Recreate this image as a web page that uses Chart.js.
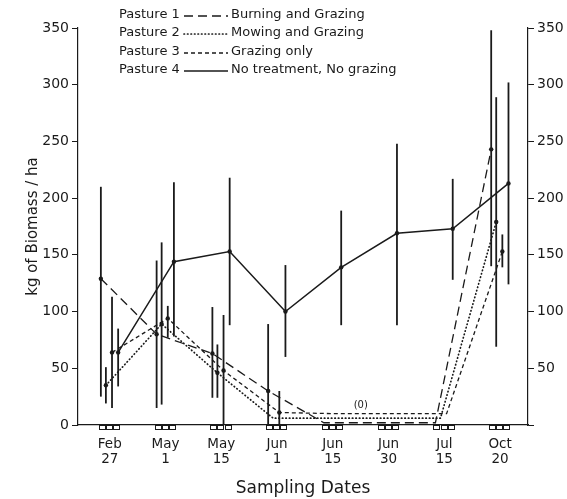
<!DOCTYPE html>
<html>
<head>
<meta charset="utf-8">
<script src="https://cdn.jsdelivr.net/npm/chart.js@4.4.1/dist/chart.umd.min.js"></script>
<style>
  html, body { margin: 0; padding: 0; background: #fff; }
  #wrap { width: 567px; height: 499px; position: relative; }
</style>
</head>
<body>
<div id="wrap"><canvas id="chart"></canvas></div>
<script>
// --------- Data ----------
const dateLabels = [['Feb', '27'], ['May', '1'], ['May', '15'], ['Jun', '1'],
                    ['Jun', '15'], ['Jun', '30'], ['Jul', '15'], ['Oct', '20']];
const pastureNames = ['Pasture 1', 'Pasture 2', 'Pasture 3', 'Pasture 4'];
const treatments   = ['Burning and Grazing', 'Mowing and Grazing', 'Grazing only', 'No treatment, No grazing'];

// mean biomass (kg/ha) per sampling date
const pasture1 = [129, 80, 63, 30, 2, 2, 2, 243];
const pasture2 = [35, 89, 46, 6, 6, 6, 6, 179];
const pasture3 = [64, 94, 48, 11, 10, 10, 10, 153];
const pasture4 = [64, 144, 153, 100, 139, 169, 173, 213];

// error bar ends (null = no bar)
const pasture1Low  = [25, 15, 24, 0, null, null, null, 140];
const pasture1High = [210, 145, 104, 89, null, null, null, 348];
const pasture2Low  = [19, 18, 24, null, null, null, null, 69];
const pasture2High = [51, 161, 71, null, null, null, null, 289];
const pasture3Low  = [15, 77, 0, 0, null, null, null, 139];
const pasture3High = [113, 105, 97, 30, null, null, null, 168];
const pasture4Low  = [34, 78, 88, 60, 88, 88, 128, 124];
const pasture4High = [85, 214, 218, 141, 189, 248, 217, 302];

const yTicks = [0, 50, 100, 150, 200, 250, 300, 350];

// --------- Layout / style ----------
const FONT = '"DejaVu Sans", sans-serif';
const INK = '#1a1a1a';
// each pasture was sampled slightly apart around a date
const sampleShift = [-0.16, -0.07, 0.04, 0.15];
const dashes = [[9, 5], [0.5, 3], [4, 3], []];

const series = [pasture1, pasture2, pasture3, pasture4];
const lows   = [pasture1Low, pasture2Low, pasture3Low, pasture4Low];
const highs  = [pasture1High, pasture2High, pasture3High, pasture4High];

const datasets = series.map((vals, k) => ({
  label: pastureNames[k],
  data: vals.map((v, i) => ({ x: i + sampleShift[k], y: v })),
  errLow: lows[k],
  errHigh: highs[k],
  borderColor: INK,
  borderWidth: k === 3 ? 1.5 : (k === 1 ? 1.7 : 1.3),
  borderDash: dashes[k],
  borderCapStyle: k === 1 ? 'round' : 'butt',
  // only the measured points with a spread get a dot
  pointRadius: lows[k].map(lo => lo == null ? 0 : 2.2),
  pointBackgroundColor: INK,
  pointBorderWidth: 0,
  tension: 0
}));

// --------- Plugins ----------
const errorBars = {
  id: 'errorBars',
  beforeDatasetsDraw(chart) {
    const { ctx, scales: { x, y } } = chart;
    ctx.save();
    ctx.strokeStyle = INK;
    ctx.lineWidth = 1.8;
    chart.data.datasets.forEach(ds => {
      ds.data.forEach((p, i) => {
        if (ds.errLow[i] == null) return;
        const px = x.getPixelForValue(p.x);
        ctx.beginPath();
        ctx.moveTo(px, y.getPixelForValue(ds.errLow[i]));
        ctx.lineTo(px, y.getPixelForValue(ds.errHigh[i]));
        ctx.stroke();
      });
    });
    ctx.restore();
  }
};

const decorations = {
  id: 'decorations',
  afterDraw(chart) {
    const { ctx, scales: { x, y } } = chart;
    ctx.save();
    // little sample boxes under the axis
    ctx.strokeStyle = INK;
    ctx.lineWidth = 1;
    const base = y.getPixelForValue(0);
    dateLabels.forEach((_, i) => {
      const x0 = x.getPixelForValue(i + sampleShift[0]) - 2;
      const x1 = x.getPixelForValue(i + sampleShift[3]) + 2;
      const w = (x1 - x0) / 3;
      for (let b = 0; b < 3; b++) ctx.strokeRect(Math.round(x0 + b * w) + 0.5, base + 0.5, Math.round(w) - 1, 4);
    });
    // zero note
    ctx.fillStyle = INK;
    ctx.font = '10px ' + FONT;
    ctx.textAlign = 'center';
    ctx.textBaseline = 'middle';
    ctx.fillText('(0)', x.getPixelForValue(4.5), y.getPixelForValue(17));

    // legend
    const rows = [15, 33, 52, 70];
    ctx.font = '13px ' + FONT;
    ctx.textAlign = 'left';
    rows.forEach((ry, k) => {
      ctx.fillText(pastureNames[k], 119, ry);
      ctx.beginPath();
      ctx.setLineDash(dashes[k]);
      ctx.lineCap = k === 1 ? 'round' : 'butt';
      ctx.lineWidth = k === 1 ? 1.7 : 1.3;
      ctx.moveTo(184, ry + 1);
      ctx.lineTo(228, ry + 1);
      ctx.stroke();
      ctx.setLineDash([]);
      ctx.fillText(treatments[k], 231, ry);
    });
    ctx.restore();
  }
};

// --------- Chart ----------
const tickFont = { family: FONT, size: 14 };

new Chart(document.getElementById('chart'), {
  type: 'line',
  data: { datasets },
  options: {
    responsive: true,
    maintainAspectRatio: false,
    animation: false,
    layout: { padding: { top: 28, left: 0, right: 0, bottom: 0 } },
    plugins: { legend: { display: false }, tooltip: { enabled: false } },
    scales: {
      x: {
        type: 'linear',
        min: -0.57,
        max: 7.5,
        afterBuildTicks: s => { s.ticks = dateLabels.map((_, i) => ({ value: i })); },
        afterFit: s => { s.height = 74; },
        grid: { display: false, drawTicks: false },
        border: { display: true, color: INK, width: 1.2 },
        ticks: {
          color: INK,
          font: { family: FONT, size: 13.5, lineHeight: 1.1 },
          padding: 12,
          maxRotation: 0,
          autoSkip: false,
          callback: v => dateLabels[Math.round(v)]
        },
        title: { display: true, text: 'Sampling Dates', color: INK,
                 font: { family: FONT, size: 17 }, padding: { top: 0, bottom: 0 } }
      },
      y: {
        position: 'left',
        min: 0,
        max: 350,
        afterBuildTicks: s => { s.ticks = yTicks.map(v => ({ value: v })); },
        afterFit: s => { s.width = 78; },
        grid: { drawOnChartArea: false, drawTicks: true, tickLength: 6, color: INK },
        border: { display: true, color: INK, width: 1.2 },
        ticks: { color: INK, font: tickFont, padding: 3 },
        title: { display: true, text: 'kg of Biomass / ha', color: INK,
                 font: { family: FONT, size: 15 }, padding: { top: 24, bottom: 0 } }
      },
      y2: {
        position: 'right',
        min: 0,
        max: 350,
        afterBuildTicks: s => { s.ticks = yTicks.map(v => ({ value: v })); },
        afterFit: s => { s.width = 39; },
        grid: { drawOnChartArea: false, drawTicks: true, tickLength: 6, color: INK },
        border: { display: true, color: INK, width: 1.2 },
        ticks: { color: INK, font: tickFont, padding: 3, callback: v => v === 0 ? '' : v }
      }
    }
  },
  plugins: [errorBars, decorations]
});
</script>
</body>
</html>
